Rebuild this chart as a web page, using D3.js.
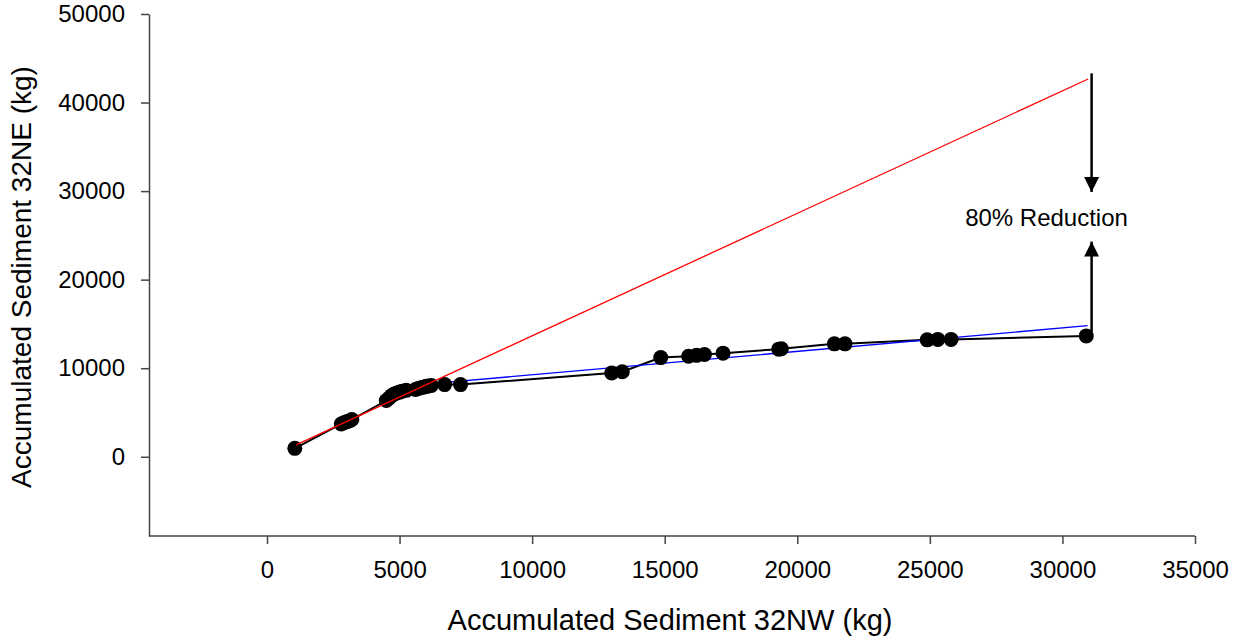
<!DOCTYPE html>
<html>
<head>
<meta charset="utf-8">
<script src="https://cdn.jsdelivr.net/npm/d3@7"></script>
<style>
  body { margin: 0; background: #fff; }
  text { font-family: "Liberation Sans", Arial, sans-serif; fill: #000; }
</style>
</head>
<body>
<div id="chart"></div>
<script>
// Accumulated sediment, 32NW (x) vs 32NE (y), in kg
var sedNW = [1050, 2800, 2900, 3000, 3100, 3200, 4500, 4600, 4700, 4800, 4900, 5000, 5100, 5250,
  5600, 5700, 5800, 5900, 6000, 6100, 6200, 6700, 7300,
  13000, 13400, 14850, 15900, 16200, 16500, 17200, 19300, 19400, 21400, 21800,
  24900, 25300, 25800, 30900];
var sedNE = [950, 3700, 3850, 3950, 4050, 4200, 6350, 6600, 6900, 7100, 7200, 7300, 7400, 7500,
  7600, 7700, 7800, 7850, 7950, 8000, 8050, 8150, 8150,
  9450, 9600, 11200, 11350, 11450, 11550, 11700, 12150, 12200, 12750, 12750,
  13200, 13250, 13250, 13650];

// fitted lines (end points)
var redFitX = [1100, 30970], redFitY = [1350, 42660];
var blueFitX = [6200, 30950], blueFitY = [8250, 14800];

var xTicks = [0, 5000, 10000, 15000, 20000, 25000, 30000, 35000];
var yTicks = [0, 10000, 20000, 30000, 40000, 50000];

// annotation: arrows at x = 31100
var arrowX = 31100;
var arrowDown = [43300, 29900], arrowUp = [14100, 24300];
var noteText = "80% Reduction", noteX = 29400, noteY = 26750;

var W = 1246, H = 643;
var margin = {top: 14, right: 51, bottom: 107, left: 149};
var width = W - margin.left - margin.right,
    height = H - margin.top - margin.bottom;

var svg = d3.select("#chart").append("svg")
    .attr("width", W)
    .attr("height", H)
  .append("g")
    .attr("transform", "translate(" + margin.left + "," + margin.top + ")");

var x = d3.scaleLinear().domain([-4450, 35000]).range([0, width]);
var y = d3.scaleLinear().domain([-8950, 50000]).range([height, 0]);

var defs = svg.append("defs");
defs.append("marker")
    .attr("id", "head")
    .attr("viewBox", "0 0 10 10")
    .attr("refX", 10).attr("refY", 5)
    .attr("markerUnits", "userSpaceOnUse")
    .attr("markerWidth", 15).attr("markerHeight", 15)
    .attr("orient", "auto")
  .append("path")
    .attr("d", "M0,0 L10,5 L0,10 Z")
    .attr("fill", "#000");

// axes
var xAxis = d3.axisBottom(x).tickValues(xTicks).tickSize(8).tickSizeOuter(0).tickPadding(17)
    .tickFormat(d3.format("d"));
var yAxis = d3.axisLeft(y).tickValues(yTicks).tickSize(8).tickSizeOuter(0).tickPadding(16)
    .tickFormat(d3.format("d"));

var gx = svg.append("g").attr("transform", "translate(0," + height + ")").call(xAxis);
var gy = svg.append("g").call(yAxis);
[gx, gy].forEach(function(g) {
  g.select(".domain").attr("stroke", "#444").attr("stroke-width", 1.5);
  g.selectAll(".tick line").attr("stroke", "#444").attr("stroke-width", 1.5);
  g.selectAll(".tick text").style("font-size", "24px").attr("fill", "#000")
    .style("font-family", "'Liberation Sans', Arial, sans-serif");
});
// x domain line stops at the 35000 tick
gx.select(".domain").attr("d", "M0,0H" + x(35000));

// data lines
var pts = sedNW.map(function(d, i) { return [d, sedNE[i]]; });
var line = d3.line().x(function(d) { return x(d[0]); }).y(function(d) { return y(d[1]); });

svg.append("path").datum(pts)
    .attr("d", line)
    .attr("fill", "none")
    .attr("stroke", "#000")
    .attr("stroke-width", 2);

svg.append("path").datum(blueFitX.map(function(d, i) { return [d, blueFitY[i]]; }))
    .attr("d", line)
    .attr("fill", "none")
    .attr("stroke", "#0000ff")
    .attr("stroke-width", 1.3);

svg.selectAll("circle").data(pts).enter()
  .append("circle")
    .attr("cx", function(d) { return x(d[0]); })
    .attr("cy", function(d) { return y(d[1]); })
    .attr("r", 7.5)
    .attr("fill", "#000");

svg.append("path").datum(redFitX.map(function(d, i) { return [d, redFitY[i]]; }))
    .attr("d", line)
    .attr("fill", "none")
    .attr("stroke", "#ff0000")
    .attr("stroke-width", 1.3);

// arrows + note
[arrowDown, arrowUp].forEach(function(a) {
  svg.append("line")
      .attr("x1", x(arrowX)).attr("x2", x(arrowX))
      .attr("y1", y(a[0])).attr("y2", y(a[1]))
      .attr("stroke", "#000")
      .attr("stroke-width", 2.5)
      .attr("marker-end", "url(#head)");
});

svg.append("text")
    .attr("x", x(noteX))
    .attr("y", y(noteY))
    .attr("text-anchor", "middle")
    .attr("dominant-baseline", "middle")
    .style("font-size", "24px")
    .text(noteText);

// axis titles
svg.append("text")
    .attr("x", width / 2 - 2)
    .attr("y", height + 94)
    .attr("text-anchor", "middle")
    .style("font-size", "29px")
    .text("Accumulated Sediment 32NW (kg)");

svg.append("text")
    .attr("transform", "translate(" + (-118) + "," + (263) + ") rotate(-90)")
    .attr("text-anchor", "middle")
    .style("font-size", "28px")
    .text("Accumulated Sediment 32NE (kg)");
</script>
</body>
</html>
